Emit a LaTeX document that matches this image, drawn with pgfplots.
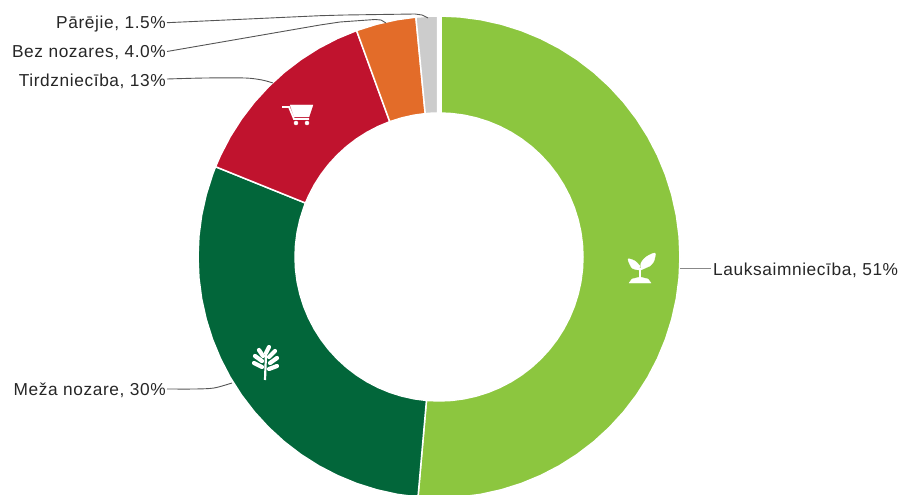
\documentclass[border=0pt]{standalone}
\usepackage{fontspec}
\setmainfont[LetterSpace=3.5]{Liberation Sans}
\usepackage{pgfplots}
\pgfplotsset{compat=1.18}
\definecolor{cLauk}{HTML}{8CC63F}
\definecolor{cMeza}{HTML}{02663A}
\definecolor{cTird}{HTML}{C0132E}
\definecolor{cBez}{HTML}{E36C29}
\definecolor{cPar}{HTML}{CCCCCC}
\definecolor{cLead}{HTML}{555555}
\pgfplotsset{slice/.style={fill=#1,draw=white,line width=1.5pt,line join=round,mark=none,data cs=polar}}
\newcommand{\lbl}[3]{\node[anchor=#1,inner sep=0pt,font=\fontsize{17.3}{19}\selectfont,text=black!85] at (axis cs:#2) {#3};}
\begin{document}
\begin{tikzpicture}[x=1pt,y=1pt]
\useasboundingbox (0,0) rectangle (906,495);
% ---- ring: (angle, radius), angle from the slice shares 51.4 / 29.7 / 13.2 / 4.2 / 1.5 %
\begin{axis}[at={(0,0)},anchor=south west,scale only axis,width=906pt,height=495pt,
  xmin=-439,xmax=467,ymin=-238,ymax=257,hide axis,clip=true]
\addplot[slice=cLauk] coordinates {
(89.5,241)(85,241)(80,241)(75,241)(70,241)(65,241)(60,241)(55,241)(50,241)(45,241)(40,241)(35,241)(30,241)(25,241)(20,241)(15,241)(10,241)(5,241)(0,241)
(-5,241)(-10,241)(-15,241)(-20,241)(-25,241)(-30,241)(-35,241)(-40,241)(-45,241)(-50,241)(-55,241)(-60,241)(-65,241)(-70,241)(-75,241)(-80,241)(-85,241)(-90,241)(-95,241)
(-95,144)(-90,144)(-85,144)(-80,144)(-75,144)(-70,144)(-65,144)(-60,144)(-55,144)(-50,144)(-45,144)(-40,144)(-35,144)(-30,144)(-25,144)(-20,144)(-15,144)(-10,144)(-5,144)
(0,144)(5,144)(10,144)(15,144)(20,144)(25,144)(30,144)(35,144)(40,144)(45,144)(50,144)(55,144)(60,144)(65,144)(70,144)(75,144)(80,144)(85,144)(89.2,144)
} -- cycle;
\addplot[slice=cMeza] coordinates {
(-95,241)(-100,241)(-105,241)(-110,241)(-115,241)(-120,241)(-125,241)(-130,241)(-135,241)(-140,241)(-145,241)(-150,241)(-155,241)(-160,241)(-165,241)(-170,241)(-175,241)(-180,241)(-185,241)(-190,241)(-195,241)(-200,241)(-202,241)
(-202,144)(-200,144)(-195,144)(-190,144)(-185,144)(-180,144)(-175,144)(-170,144)(-165,144)(-160,144)(-155,144)(-150,144)(-145,144)(-140,144)(-135,144)(-130,144)(-125,144)(-120,144)(-115,144)(-110,144)(-105,144)(-100,144)(-95,144)
} -- cycle;
\addplot[slice=cTird] coordinates {
(-202,241)(-205,241)(-210,241)(-215,241)(-220,241)(-225,241)(-230,241)(-235,241)(-240,241)(-245,241)(-250,241)
(-250,144)(-245,144)(-240,144)(-235,144)(-230,144)(-225,144)(-220,144)(-215,144)(-210,144)(-205,144)(-202,144)
} -- cycle;
\addplot[slice=cBez] coordinates {
(-250,241)(-255,241)(-260,241)(-264.5,241)
(-264.5,144)(-260,144)(-255,144)(-250,144)
} -- cycle;
\addplot[slice=cPar] coordinates {
(-264.5,241)(-267,241)(-269.7,241)
(-269.4,144)(-267,144)(-264.5,144)
} -- cycle;
\end{axis}
% ---- leaders, icons, labels in picture pixels (y downward)
\begin{axis}[at={(0,0)},anchor=south west,scale only axis,width=906pt,height=495pt,
  xmin=0,xmax=906,ymin=0,ymax=495,y dir=reverse,hide axis,clip=false]
\addplot[cLead!70,line width=1pt,mark=none] coordinates {(680,268)(711,268)};
\addplot[cLead,line width=.9pt,mark=none,smooth] coordinates {(167,389)(195,389)(214,388)(232,383)};
\addplot[cLead,line width=.9pt,mark=none,smooth] coordinates {(167,79)(205,78)(245,78)(262,80)(273,83)};
\addplot[cLead,line width=.9pt,mark=none] coordinates {(167,51.5)(320,25)(340,22)(375,19.5)(381,20)(386,23)};
\addplot[cLead,line width=.9pt,mark=none] coordinates {(167,22.7)(320,15.7)(345,15)(415,14)(422,15)(428,18)};
% plant
\addplot[white,fill=white,line width=.3pt,mark=none,smooth] coordinates {(641,270)(641,263)(646,257)(655,253)(654,261)(650,266)} -- cycle;
\addplot[white,fill=white,line width=.3pt,mark=none,smooth] coordinates {(639,270)(632,268)(628,259)(635,261)(640,266)} -- cycle;
\addplot[white,line width=2pt,mark=none] coordinates {(640,268)(640,279)};
\addplot[white,fill=white,line width=.3pt,mark=none] coordinates {(629,283)(632,279)(640,277)(648,279)(651,283)} -- cycle;
% cart
\addplot[white,fill=white,line width=.3pt,mark=none] coordinates {(290,105)(313,105)(309,117)(294,117)} -- cycle;
\addplot[white,line width=1.8pt,mark=none] coordinates {(282,107)(289,107)(294,119)(309,119)};
\addplot[only marks,mark=*,mark size=2pt,mark options={white,fill=white}] coordinates {(296,123)(307,123)};
% tree
\addplot[white,line width=2.2pt,mark=none] coordinates {(265,380)(266,354)};
\addplot[white,line width=4.2pt,line cap=round,mark=none] coordinates {(269,347)(266,353)};
\addplot[white,line width=4.2pt,line cap=round,mark=none] coordinates {(275,351)(269,357)};
\addplot[white,line width=4.2pt,line cap=round,mark=none] coordinates {(259,350)(263,356)};
\addplot[white,line width=4.2pt,line cap=round,mark=none] coordinates {(277,358)(270,363)};
\addplot[white,line width=4.2pt,line cap=round,mark=none] coordinates {(255,356)(262,361)};
\addplot[white,line width=4.2pt,line cap=round,mark=none] coordinates {(277,366)(269,369)};
\addplot[white,line width=4.2pt,line cap=round,mark=none] coordinates {(254,363)(262,367)};
% labels
\lbl{east}{166,24}{Pārējie, 1.5\%}
\lbl{east}{166,52.5}{Bez nozares, 4.0\%}
\lbl{east}{166,81.5}{Tirdzniecība, 13\%}
\lbl{east}{166,390.5}{Meža nozare, 30\%}
\lbl{west}{713,270}{Lauksaimniecība, 51\%}
\end{axis}
\end{tikzpicture}
\end{document}
